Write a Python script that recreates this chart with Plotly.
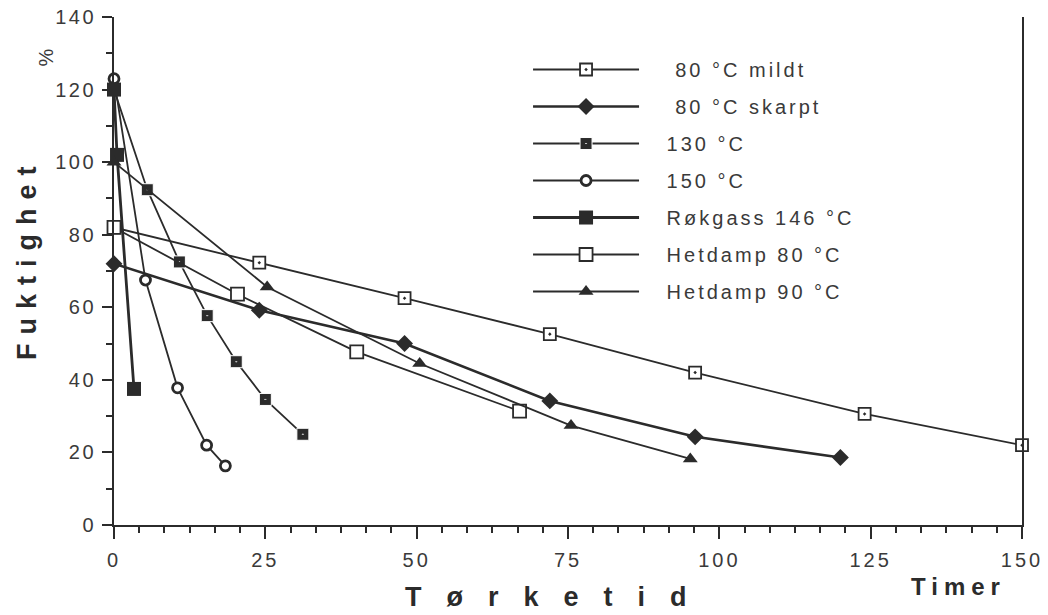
import plotly.graph_objects as go

# ---- data ----
mildt_x = [0, 24, 48, 72, 96, 124, 150]
mildt_y = [82, 72.3, 62.5, 52.6, 42, 30.6, 22]

skarpt_x = [0, 24, 48, 72, 96, 120]
skarpt_y = [72, 59.2, 50, 34.2, 24.3, 18.6]

c130_x = [0, 5.5, 10.8, 15.4, 20.2, 25, 31.2]
c130_y = [120, 92.4, 72.5, 57.7, 45, 34.6, 25]

c150_x = [0, 5.2, 10.5, 15.3, 18.4]
c150_y = [123, 67.5, 37.8, 22, 16.3]

rok_x = [0, 0.5, 3.3]
rok_y = [120, 102, 37.5]

hd80_x = [0, 20.4, 40.1, 67]
hd80_y = [82, 63.6, 47.7, 31.4]

hd90_x = [0, 25.3, 50.5, 75.5, 95.2]
hd90_y = [100, 65.6, 44.5, 27.4, 18.2]

x_ticks = [0, 25, 50, 75, 100, 125, 150]
y_ticks = [0, 20, 40, 60, 80, 100, 120, 140]

INK = "#2b2b2b"
TXT = "#3a3a3a"
FONT = "Liberation Sans, Arial, sans-serif"


def spaced(t, ls):
    return f'<span style="letter-spacing:{ls}px">{t}</span>'


PAD = '<span style="letter-spacing:17px"> </span>'

series = [
    (" 80 °C mildt", mildt_x, mildt_y, dict(symbol="square-dot", size=12, color="white", line=dict(color=INK, width=1.8)), 1.8),
    (" 80 °C skarpt", skarpt_x, skarpt_y, dict(symbol="diamond", size=13, color=INK, line=dict(color=INK, width=0)), 2.6),
    ("130 °C", c130_x, c130_y, dict(symbol="square-dot", size=12, color=INK, line=dict(color="white", width=1)), 1.8),
    ("150 °C", c150_x, c150_y, dict(symbol="circle", size=10, color="white", line=dict(color=INK, width=2.8)), 1.8),
    ("Røkgass 146 °C", rok_x, rok_y, dict(symbol="square", size=14, color=INK, line=dict(color=INK, width=0)), 2.8),
    ("Hetdamp 80 °C", hd80_x, hd80_y, dict(symbol="square", size=13, color="white", line=dict(color=INK, width=1.8)), 1.8),
    ("Hetdamp 90 °C", hd90_x, hd90_y, dict(symbol="triangle-up", size=13, color=INK, line=dict(color=INK, width=0)), 1.8),
]

fig = go.Figure()
for i, (name, xs, ys, mk, lw) in enumerate(series):
    fig.add_trace(go.Scatter(
        x=xs, y=ys, name=PAD + spaced(name, 3), mode="lines+markers",
        line=dict(color=INK, width=lw), marker=mk,
        legendgroup=f"g{i}", cliponaxis=False,
    ))

fig.update_layout(
    width=1048, height=615,
    margin=dict(l=114, r=26, t=17, b=90),
    paper_bgcolor="white", plot_bgcolor="white",
    font=dict(family=FONT, color=INK),
    showlegend=True,
    legend=dict(
        x=0.456, y=0.935, xanchor="left", yanchor="top",
        font=dict(size=20, family=FONT, color=TXT),
        itemwidth=106, tracegroupgap=8,
        bgcolor="rgba(0,0,0,0)",
    ),
    xaxis=dict(
        range=[0, 150], showgrid=False, zeroline=False, automargin=False,
        showline=True, linecolor=INK, linewidth=1.8,
        tickmode="array", tickvals=x_ticks,
        ticktext=[spaced(str(v), 3) for v in x_ticks],
        ticks="outside", ticklen=12, tickwidth=1.8, tickcolor=INK,
        ticklabelstandoff=4, ticklabeloverflow="allow",
        tickfont=dict(size=20, color=TXT),
        minor=dict(dtick=25 / 6, tick0=0, ticks="outside", ticklen=6, tickwidth=1.5, tickcolor=INK),
    ),
    yaxis=dict(
        range=[0, 140], showgrid=False, zeroline=False, automargin=False,
        showline=True, linecolor=INK, linewidth=1.8, mirror=True,
        tickmode="array", tickvals=y_ticks,
        ticktext=[spaced(str(v), 2.5) for v in y_ticks],
        ticks="outside", ticklen=10, tickwidth=1.8, tickcolor=INK,
        ticklabelstandoff=2, ticklabeloverflow="allow",
        tickfont=dict(size=20, color=TXT),
        minor=dict(dtick=10, ticks="outside", ticklen=6, tickwidth=1.5, tickcolor=INK),
    ),
    annotations=[
        dict(text="<b>" + spaced("Tørketid", 25) + "</b>", xref="paper", yref="paper",
             x=0.49, y=-0.142, xanchor="center", yanchor="middle", showarrow=False,
             font=dict(size=27, color=INK)),
        dict(text="<b>" + spaced("Fuktighet", 9) + "</b>", xref="paper", yref="paper",
             x=-0.095, y=0.525, xanchor="center", yanchor="middle", showarrow=False,
             textangle=-90, font=dict(size=27, color=INK)),
        dict(text="<b>" + spaced("Timer", 6) + "</b>", xref="paper", yref="paper",
             x=0.93, y=-0.122, xanchor="center", yanchor="middle", showarrow=False,
             font=dict(size=24, color=INK)),
        dict(text="%", xref="paper", yref="paper", x=-0.075, y=0.92, textangle=-90,
             xanchor="center", yanchor="middle", showarrow=False,
             font=dict(size=20, color=TXT)),
    ],
)

# remove the default 8 px page margin so the figure fills the 1048x615 window exactly
fig.write_html(
    "out.html",
    config={"displayModeBar": False},
    post_script="document.body.style.margin='0';",
)
